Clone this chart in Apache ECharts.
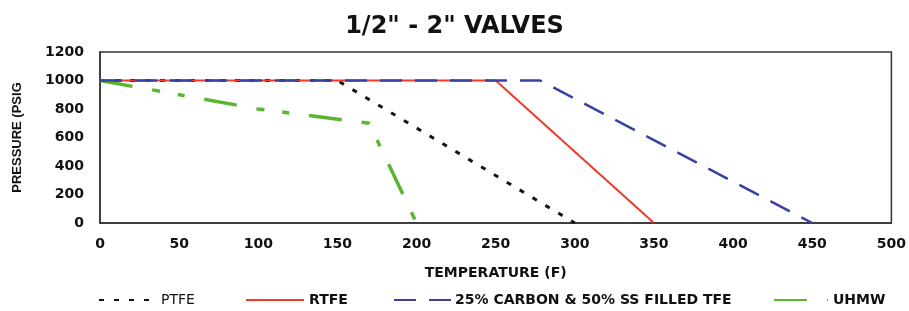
<!DOCTYPE html>
<html>
<head>
<meta charset="utf-8">
<script src="https://cdn.jsdelivr.net/npm/echarts@6/dist/echarts.min.js"></script>
<style>
  html, body { margin: 0; padding: 0; background: #fff; }
  #chart { width: 909px; height: 311px; }
</style>
</head>
<body>
<div id="chart"></div>
<script>
// temperature (F) / pressure (psig) points for each seat material
const ptfe = [[0, 1000], [150, 1000], [300, 0]]
const rtfe = [[0, 1000], [250, 1000], [350, 0]]
const carbonSs = [[0, 1000], [278, 1000], [450, 0]]
const uhmw = [[0, 1000], [50, 900], [100, 800], [170, 700], [200, 0]]
const seriesNames = ['PTFE', 'RTFE', '25% CARBON & 50% SS FILLED TFE', 'UHMW']

const font = 'DejaVu Sans, Verdana, sans-serif'
const chart = echarts.init(document.getElementById('chart'))

// one legend per entry so each sits where the picture has it
function legendAt(name, left, width, text) {
  return {
    data: [name],
    left: left,
    top: 288,
    itemWidth: width,
    itemHeight: 10,
    itemStyle: { color: 'rgba(0,0,0,0)', borderWidth: 0 },
    textStyle: Object.assign({ fontFamily: font, fontSize: 14, fontWeight: 'bold', color: '#111' }, text || {})
  }
}

const option = {
  animation: false,
  title: {
    text: '1/2" - 2" VALVES',
    left: 'center',
    top: 10,
    textStyle: { fontFamily: font, fontSize: 24, fontWeight: 'bold', color: '#111' }
  },
  legend: [
    legendAt(seriesNames[0], 93, 52, { fontWeight: 'normal', padding: [0, 0, 0, 5] }),
    legendAt(seriesNames[1], 240, 58),
    legendAt(seriesNames[2], 388, 57, { padding: [0, 0, 0, -1] }),
    legendAt(seriesNames[3], 768, 54)
  ],
  grid: {
    left: 100, right: 17, top: 52, bottom: 88,
    show: true, borderColor: '#333', borderWidth: 1.5
  },
  xAxis: {
    type: 'value',
    min: 0, max: 500, interval: 50,
    name: 'TEMPERATURE (F)',
    nameLocation: 'middle',
    nameGap: 43,
    nameTextStyle: { fontFamily: font, fontSize: 14, fontWeight: 'bold', color: '#111' },
    axisLine: { lineStyle: { color: '#333', width: 1.5 } },
    axisTick: { show: false },
    splitLine: { show: false },
    axisLabel: { fontFamily: font, fontSize: 14, fontWeight: 'bold', color: '#111', margin: 14 }
  },
  yAxis: {
    type: 'value',
    min: 0, max: 1200, interval: 200,
    name: 'PRESSURE (PSIG',
    nameLocation: 'middle',
    nameGap: 76,
    nameTextStyle: { fontFamily: 'Liberation Sans, Arial, sans-serif', fontSize: 13, fontWeight: 'bold', color: '#111' },
    axisLine: { show: true, lineStyle: { color: '#333', width: 1.5 } },
    axisTick: { show: false },
    splitLine: { show: false },
    axisLabel: { fontFamily: font, fontSize: 14, fontWeight: 'bold', color: '#111', margin: 16, formatter: v => String(v) }
  },
  series: [
    {
      name: seriesNames[0], type: 'line', data: ptfe, symbol: 'none', z: 1,
      itemStyle: { color: '#111' },
      lineStyle: { color: '#111', width: 3, type: [5, 10] }
    },
    {
      name: seriesNames[1], type: 'line', data: rtfe, symbol: 'none', z: 3,
      itemStyle: { color: '#f03a2a' },
      lineStyle: { color: '#f03a2a', width: 2 }
    },
    {
      name: seriesNames[2], type: 'line', data: carbonSs, symbol: 'none', z: 4,
      itemStyle: { color: '#3a3fa6' },
      lineStyle: { color: '#3a3fa6', width: 2.5, type: [22, 13] }
    },
    {
      name: seriesNames[3], type: 'line', data: uhmw, symbol: 'none', z: 2,
      itemStyle: { color: '#5cb531' },
      lineStyle: { color: '#5cb531', width: 3.5, type: [33, 20, 8, 18, 7, 20] }
    }
  ]
}

chart.setOption(option)
</script>
</body>
</html>
